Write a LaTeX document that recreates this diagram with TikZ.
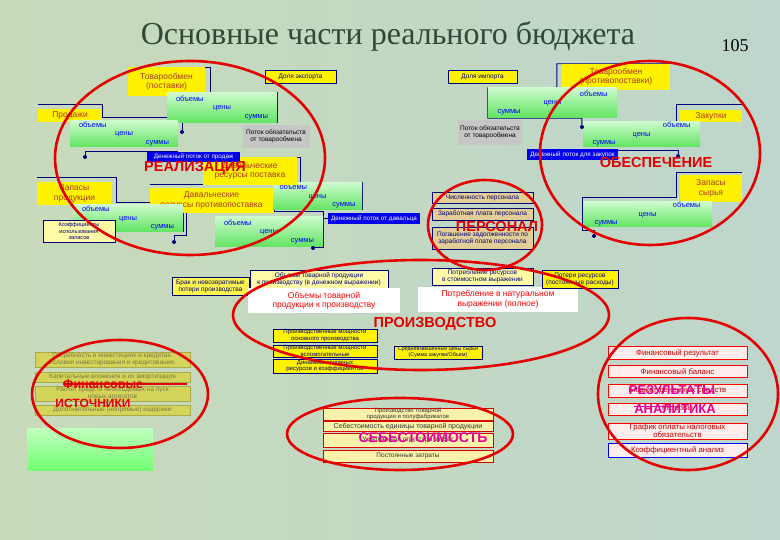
\documentclass[tikz,border=0pt]{standalone}
\usepackage{fontspec}
\setmainfont{Liberation Sans}
\newfontfamily\titlefont{Liberation Serif}
\pgfdeclarelayer{back}
\pgfdeclarelayer{lines}
\pgfsetlayers{back,lines,main}

\definecolor{bgl}{RGB}{200,218,186}
\definecolor{bgr}{RGB}{190,214,204}
\definecolor{ttl}{RGB}{48,72,54}
\definecolor{navy}{RGB}{0,0,120}
\definecolor{ytext}{RGB}{170,60,30}
\definecolor{glight}{RGB}{205,250,205}
\definecolor{gdark}{RGB}{95,228,95}
\definecolor{fblue}{RGB}{0,0,235}
\definecolor{tanf}{RGB}{226,206,150}
\definecolor{ovred}{RGB}{228,0,0}
\definecolor{mag}{RGB}{232,0,150}
\definecolor{olivef}{RGB}{212,212,90}
\definecolor{olivet}{RGB}{125,120,70}
\definecolor{creamf}{RGB}{250,242,170}
\definecolor{pinkf}{RGB}{255,236,236}

\newcommand{\stairs}[1]{\makebox[#1][l]{объемы}\\\makebox[#1][c]{цены}\\\makebox[#1][r]{суммы}}
\newcommand{\stairsr}[1]{\makebox[#1][r]{объемы}\\\makebox[#1][c]{цены}\\\makebox[#1][l]{суммы}}

\tikzset{
  lbl/.style={inner sep=0pt, align=center, font=\fontsize{6.5}{7}\selectfont},
  ylw/.style={lbl, fill=yellow, text=ytext, font=\fontsize{8.5}{9.5}\selectfont},
  grn/.style={lbl, top color=glight, bottom color=gdark, text=blue, align=left,
    font=\fontsize{7.5}{8.5}\selectfont},
  flow/.style={lbl, fill=fblue, text=white, font=\fontsize{6.3}{7}\selectfont},
  greybox/.style={lbl, fill=gray!45, text=black},
  nbox/.style={lbl, fill=yellow, draw=navy, text=navy, line width=0.8pt},
  tanbox/.style={lbl, fill=tanf, draw=navy, text=navy, line width=0.8pt},
  finbox/.style={lbl, fill=olivef, draw=olivef!80!black, text=olivet},
  costbox/.style={lbl, fill=creamf, draw=red!85!black, text=black!80, line width=0.8pt},
  resbox/.style={lbl, fill=pinkf, draw=red, text=red!75!black, line width=1pt,
    font=\fontsize{7.8}{8}\selectfont},
  whbox/.style={lbl, fill=white, text=red, font=\fontsize{8.5}{9.5}\selectfont},
  oval/.style={draw=ovred, line width=2.6pt},
  bigred/.style={inner sep=0pt, text=ovred, font=\fontsize{14.5}{15}\selectfont\bfseries},
  bigmag/.style={inner sep=0pt, text=mag, font=\fontsize{14}{15}\selectfont\bfseries},
  link/.style={draw=navy, line width=0.9pt},
  pin/.style={circle, fill=navy, inner sep=0pt, minimum size=4pt}
}

\begin{document}
\begin{tikzpicture}[x=1pt,y=-1pt]
\useasboundingbox (0,0) rectangle (780,540);
\begin{pgfonlayer}{back}
\fill[left color=bgl, right color=bgr] (0,0) rectangle (780,540);
\end{pgfonlayer}

% title
\node[font=\titlefont\fontsize{32}{32}\selectfont, text=ttl] (title) at (388,36) {Основные части реального бюджета};
\node[font=\titlefont\fontsize{18}{18}\selectfont] (num) at (735,46) {105};

% realisation
\node[nbox, minimum width=71pt, minimum height=13pt] (dolE) at (300.5,76.5) {Доля экспорта};
\node[ylw, minimum width=77pt, minimum height=29pt] (tovA) at (166.5,82) {Товарообмен\\(поставки)};
\node[grn, minimum width=110pt, minimum height=30pt] (grnA) at (222,108) {\stairs{92pt}};
\node[ylw, minimum width=64pt, minimum height=13pt] (prod) at (70,115.5) {Продажи};
\node[grn, minimum width=108pt, minimum height=26pt] (grnB) at (124,134) {\stairs{90pt}};
\node[greybox, minimum width=67pt, minimum height=23pt] (potA) at (276,136.5) {Поток обязательств\\от товарообмена};
\node[grn, minimum width=89pt, minimum height=27pt] (grnC) at (317.5,196.5) {\stairs{76pt}};
\node[ylw, minimum width=94pt, minimum height=28pt] (davP) at (250,171) {Давальческие\\ресурсы поставка};
\node[flow, minimum width=93pt, minimum height=10pt] (denA) at (193.5,157) {Денежный поток от продаж};
\node[grn, minimum width=108pt, minimum height=30pt] (grnD) at (269,232) {\stairs{90pt}};
\node[ylw, minimum width=123pt, minimum height=25pt] (davK) at (211.5,200.5) {Давальческие\\ресурсы противопоставка};
\node[flow, minimum width=92pt, minimum height=11pt] (denB) at (374,218.5) {Денежный поток от давальца};
\node[ylw, minimum width=75pt, minimum height=23pt] (zapP) at (74.5,193.5) {Запасы\\продукции};
\node[grn, minimum width=110pt, minimum height=27pt] (grnE) at (128,218.5) {\stairs{92pt}};
\node[lbl, fill=yellow!35, draw=navy, line width=0.8pt, text=navy, font=\fontsize{5.6}{6.2}\selectfont,
  minimum width=72pt, minimum height=22pt] (koef) at (79,231) {Коэффициенты\\использования\\запасов};

% supply
\node[nbox, minimum width=69pt, minimum height=13pt] (dolI) at (482.5,76.5) {Доля импорта};
\node[ylw, minimum width=108pt, minimum height=26pt] (tovB) at (616,77) {Товарообмен\\(противопоставки)};
\node[grn, minimum width=129pt, minimum height=30pt] (grnF) at (552.5,103) {\stairsr{110pt}};
\node[greybox, minimum width=64pt, minimum height=25pt] (potB) at (490,132.5) {Поток обязательств\\от товарообмена};
\node[ylw, minimum width=62pt, minimum height=12pt] (zak) at (711,116) {Закупки};
\node[grn, minimum width=117pt, minimum height=25pt] (grnG) at (641.5,134.5) {\stairsr{98pt}};
\node[flow, minimum width=91pt, minimum height=11pt] (denC) at (572.5,154.5) {Денежный поток для закупок};
\node[ylw, minimum width=62pt, minimum height=27pt] (zapS) at (711,188.5) {Запасы\\сырья};
\node[grn, minimum width=129pt, minimum height=25pt] (grnH) at (647.5,214.5) {\stairsr{106pt}};

% staff
\node[tanbox, minimum width=101pt, minimum height=11pt] (chis) at (482.5,197.5) {Численность персонала};
\node[tanbox, minimum width=101pt, minimum height=12pt] (zarp) at (482.5,214) {Заработная плата персонала};
\node[tanbox, minimum width=101pt, minimum height=22pt] (pogz) at (482.5,238) {Погашение задолженности по\\заработной плате персонала};

% production
\node[lbl, fill=yellow!70, draw=navy, line width=0.8pt, text=navy, minimum width=77pt, minimum height=18pt] (brak) at (210.5,286) {Брак и невозвратимые\\потери производства};
\node[lbl, fill=yellow!35, draw=navy, line width=0.8pt, text=navy, minimum width=138pt, minimum height=18pt] (obDen) at (319,279) {Объемы товарной продукции\\к производству (в денежном выражении)};
\node[whbox, minimum width=152pt, minimum height=25pt] (obWh) at (324,300.5) {Объемы товарной\\продукции к производству};
\node[lbl, fill=yellow!35, draw=navy, line width=0.8pt, text=navy, minimum width=101pt, minimum height=17pt] (potrS) at (482.5,276.5) {Потребление ресурсов\\в стоимостном выражении};
\node[whbox, minimum width=160pt, minimum height=25pt] (potrN) at (498,299.5) {Потребление в натуральном\\выражении (полное)};
\node[nbox, minimum width=76pt, minimum height=18pt] (poter) at (580,279) {Потери ресурсов\\(постоянные расходы)};
\node[nbox, font=\fontsize{6}{6.5}\selectfont, minimum width=104pt, minimum height=13pt] (pm1) at (325,335.5) {Производственные мощности\\основного производства};
\node[nbox, font=\fontsize{6}{6.5}\selectfont, minimum width=104pt, minimum height=12pt] (pm2) at (325,351) {Производственные мощности\\вспомогательные};
\node[nbox, font=\fontsize{6}{6.5}\selectfont, minimum width=104pt, minimum height=14pt] (pm3) at (325,366) {Динамика основных\\ресурсов и коэффициентов};
\node[nbox, font=\fontsize{5.3}{5.8}\selectfont, minimum width=88pt, minimum height=13pt] (sred) at (438,352.5) {Средневзвешенные цены сырья\\(Сумма закупки/Объем)};

% financial sources
\node[finbox, minimum width=155pt, minimum height=15pt] (fin1) at (112.5,359.5) {Потребность в инвестициях и кредитах.\\Условия инвестирования и кредитования.};
\node[finbox, minimum width=155pt, minimum height=10pt] (fin2) at (112.5,377) {Капитальные вложения и их амортизация};
\node[finbox, minimum width=155pt, minimum height=15pt] (fin3) at (112.5,393.5) {Расчет средств необходимых на пуск\\новых агрегатов};
\node[finbox, minimum width=155pt, minimum height=10pt] (fin4) at (112.5,410) {Дополнительные (непрямые) издержки};
\node[lbl, top color=green!25!white, bottom color=green!55!white, minimum width=126pt, minimum height=42pt] (grnI) at (90,449) {};

% cost
\node[costbox, font=\fontsize{6}{6}\selectfont, minimum width=170pt, minimum height=12pt] (cs1) at (408,414) {Производство товарной\\продукции и полуфабрикатов};
\node[costbox, font=\fontsize{7}{7}\selectfont, minimum width=170pt, minimum height=10pt] (cs2) at (408,426.5) {Себестоимость единицы товарной продукции};
\node[costbox, minimum width=170pt, minimum height=14pt] (cs3) at (408,440) {Укрупненная структура затрат};
\node[costbox, minimum width=170pt, minimum height=12pt] (cs4) at (408,456) {Постоянные затраты};

% results
\node[resbox, minimum width=139pt, minimum height=13pt] (rs1) at (677.5,353.5) {Финансовый результат};
\node[resbox, minimum width=139pt, minimum height=12pt] (rs2) at (677.5,372) {Финансовый баланс};
\node[resbox, minimum width=139pt, minimum height=12pt] (rs3) at (677.5,391) {Бюджет денежных средств};
\node[resbox, minimum width=139pt, minimum height=12pt] (rs4) at (677.5,409) {Резервы};
\node[resbox, minimum width=139pt, minimum height=16pt] (rs5) at (677.5,431) {График оплаты налоговых\\обязательств};
\node[resbox, draw=blue, minimum width=139pt, minimum height=14pt] (rs6) at (677.5,450) {Коэффициентный анализ};

% pins
\node[pin] (pA) at (182,132) {};
\node[pin] (pB) at (85,157) {};
\node[pin] (pC) at (174,242) {};
\node[pin] (pD) at (313,248) {};
\node[pin] (pE) at (582,127) {};
\node[pin] (pF) at (678,156) {};
\node[pin] (pG) at (594,236) {};

% brackets
\begin{pgfonlayer}{lines}
\draw[link] (tovA.north west) -- (tovA.north east) -- ++(5,0) |- (grnA.north east) -- (grnA.south east);
\draw[link] ([yshift=4pt]prod.north west) -- ++(65,0) |- ([yshift=3pt]grnB.north east) -| (pA);
\draw[link] ([yshift=-4pt]grnB.south east) -| (pB);
\draw[link] (denA.east) -- ++(60,0) |- (grnC.north east) -- (grnC.south east);
\draw[link] ([yshift=3pt]davK.north west) -- ++(125,0) |- ([yshift=5pt]grnD.north east) -- (grnD.south east) -| (pD);
\draw[link] ([yshift=4pt]zapP.north west) -- ++(80,0) |- ([yshift=2pt]grnE.north east) -- (grnE.south east);
\draw[link] ([xshift=37pt]davK.south west) |- ([yshift=-3pt]grnE.south east) -| (pC);
\draw[link] (denB.west) -- (grnD.north east |- denB.west);
\draw[link] (tovB.north east) -- ([xshift=-5pt]tovB.north west) |- (grnF.north west) -- (grnF.south west) -- ++(94,0) -- (pE);
\draw[link] ([yshift=5pt]zak.north east) -- ([shift={(-3pt,5pt)}]zak.north west) |- (grnG.north west);
\draw[link] ([yshift=4pt]denC.east) -| (pF);
\draw[link] ([yshift=2pt]zapS.north east) -- ([shift={(-3pt,2pt)}]zapS.north west) |- ([yshift=4pt]grnH.north west) -- ([yshift=-3pt]grnH.south west) -| (pG);
\end{pgfonlayer}

% ovals
\draw[oval] (190,158) ellipse [x radius=135, y radius=97];
\draw[oval] (650,153) ellipse [x radius=110, y radius=92];
\draw[oval] (485,225) ellipse [x radius=57, y radius=45];
\draw[oval] (421,315) ellipse [x radius=188, y radius=55];
\draw[oval] (120,394) ellipse [x radius=88, y radius=54];
\draw[oval] (400,434) ellipse [x radius=113, y radius=36];
\draw[oval] (688,394) ellipse [x radius=90, y radius=76];

% oval labels
\node[bigred] (lReal) at (195,168) {РЕАЛИЗАЦИЯ};
\node[bigred] (lObesp) at (656,163) {ОБЕСПЕЧЕНИЕ};
\node[bigred] (lPers) at (497,227) {ПЕРСОНАЛ};
\node[bigred] (lProd) at (435,324) {ПРОИЗВОДСТВО};
\node[bigred, font=\fontsize{12.5}{13}\selectfont\bfseries] (lFin) at (103,384) {Финансовые};
\node[bigred, font=\fontsize{12}{13}\selectfont\bfseries] (lIst) at (93,403) {ИСТОЧНИКИ};
\draw[ovred, line width=1.2pt] (lFin.west |- 0,384) -- (187,384);
\node[bigmag] (lSeb) at (423,438) {СЕБЕСТОИМОСТЬ};
\node[bigmag, font=\fontsize{13}{14}\selectfont\bfseries] (lRes) at (672,390) {РЕЗУЛЬТАТЫ};
\node[bigmag, font=\fontsize{13}{14}\selectfont\bfseries] (lAn) at (675,409) {АНАЛИТИКА};
\draw[mag, line width=1pt] (lAn.west |- 0,406) -- (677,406);
\end{tikzpicture}
\end{document}
